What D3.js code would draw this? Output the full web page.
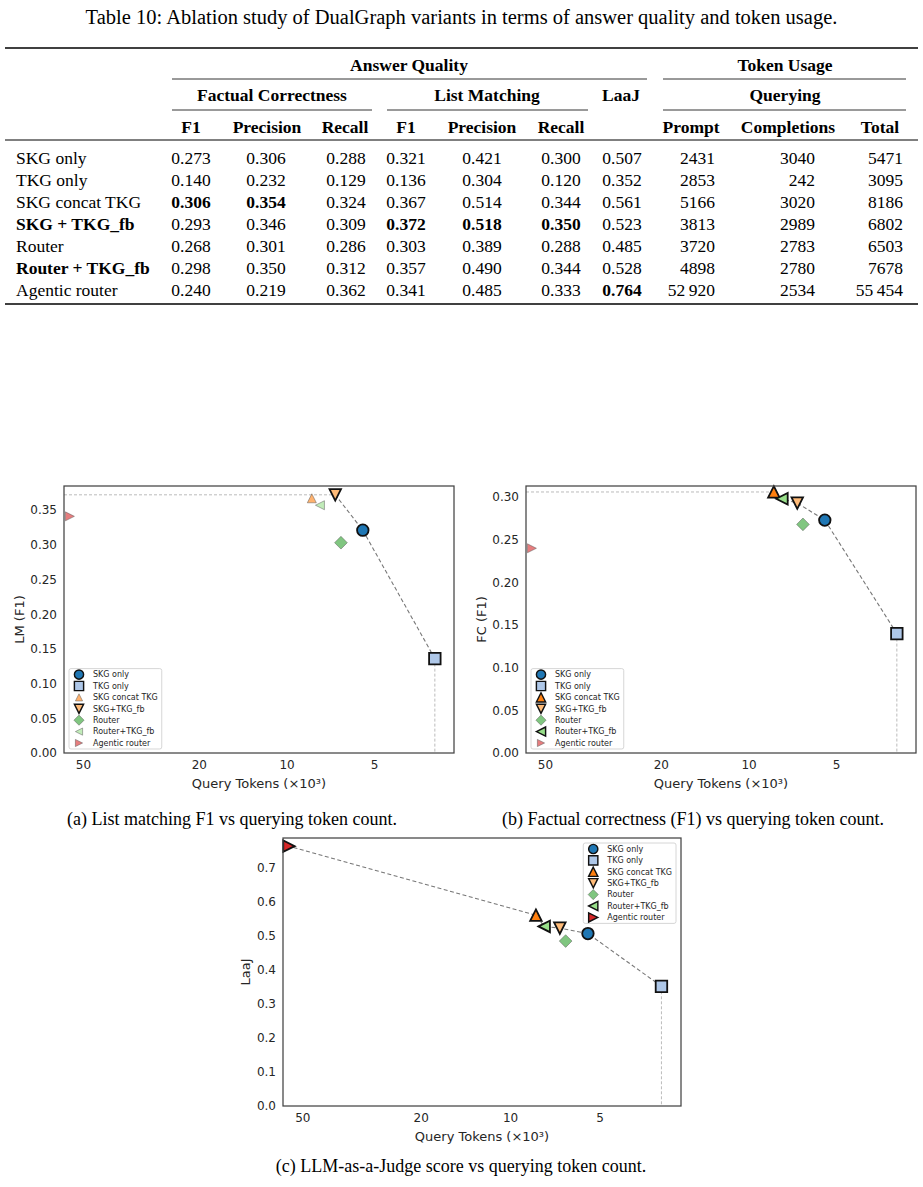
<!DOCTYPE html>
<html>
<head>
<meta charset="utf-8">
<script src="https://cdn.jsdelivr.net/npm/d3@7"></script>
<style>
  body { margin: 0; background: #fff; }
  svg { display: block; }
</style>
</head>
<body>
<div id="fig"></div>
<script>
// ---- data (Table 10) ----
const methods = ["SKG only", "TKG only", "SKG concat TKG", "SKG + TKG_fb", "Router", "Router + TKG_fb", "Agentic router"];
const legendNames = ["SKG only", "TKG only", "SKG concat TKG", "SKG+TKG_fb", "Router", "Router+TKG_fb", "Agentic router"];
const boldMethods = [3, 5];

const fcF1 = [0.273, 0.140, 0.306, 0.293, 0.268, 0.298, 0.240];
const fcPrecision = [0.306, 0.232, 0.354, 0.346, 0.301, 0.350, 0.219];
const fcRecall = [0.288, 0.129, 0.324, 0.309, 0.286, 0.312, 0.362];
const lmF1 = [0.321, 0.136, 0.367, 0.372, 0.303, 0.357, 0.341];
const lmPrecision = [0.421, 0.304, 0.514, 0.518, 0.389, 0.490, 0.485];
const lmRecall = [0.300, 0.120, 0.344, 0.350, 0.288, 0.344, 0.333];
const laaj = [0.507, 0.352, 0.561, 0.523, 0.485, 0.528, 0.764];
const promptTokens = [2431, 2853, 5166, 3813, 3720, 4898, 52920];
const completionTokens = [3040, 242, 3020, 2989, 2783, 2780, 2534];
const totalTokens = [5471, 3095, 8186, 6802, 6503, 7678, 55454];

// ---- chart ticks ----
const xTicks = [50, 20, 10, 5];
const lmTicks = [0, 0.05, 0.10, 0.15, 0.20, 0.25, 0.30, 0.35];
const fcTicks = [0, 0.05, 0.10, 0.15, 0.20, 0.25, 0.30];
const laajTicks = [0, 0.1, 0.2, 0.3, 0.4, 0.5, 0.6, 0.7];

const colors = ["#1f77b4", "#aec7e8", "#ff7f0e", "#ffbb78", "#2ca02c", "#98df8a", "#d62728"];

const serif = "'Liberation Serif', 'Times New Roman', serif";
const sans = "'DejaVu Sans', sans-serif";
const ink = "#262626";

const svg = d3.select("#fig").append("svg")
  .attr("width", 923).attr("height", 1187)
  .style("font-family", serif);

// ---------------- table ----------------
svg.append("text")
  .attr("x", 461.5).attr("y", 17).attr("dy", "0.35em")
  .attr("text-anchor", "middle")
  .style("font-size", "20.5px")
  .text("Table 10: Ablation study of DualGraph variants in terms of answer quality and token usage.");

const tfs = 17.5;
const f3 = d3.format(".3f");
const ftok = (v) => (v >= 10000 ? d3.format(",")(v).replace(/,/g, "\u2009") : String(v));

const columns = [
  { head: "F1", hx: 191, x: 191, anchor: "middle", vals: fcF1, fmt: f3, bold: [2] },
  { head: "Precision", hx: 267, x: 266, anchor: "middle", vals: fcPrecision, fmt: f3, bold: [2] },
  { head: "Recall", hx: 345, x: 346, anchor: "middle", vals: fcRecall, fmt: f3, bold: [] },
  { head: "F1", hx: 406, x: 406, anchor: "middle", vals: lmF1, fmt: f3, bold: [3] },
  { head: "Precision", hx: 482, x: 482, anchor: "middle", vals: lmPrecision, fmt: f3, bold: [3] },
  { head: "Recall", hx: 561, x: 561, anchor: "middle", vals: lmRecall, fmt: f3, bold: [3] },
  { head: "", hx: 622, x: 622, anchor: "middle", vals: laaj, fmt: f3, bold: [6] },
  { head: "Prompt", hx: 691, x: 715, anchor: "end", vals: promptTokens, fmt: ftok, bold: [] },
  { head: "Completions", hx: 788, x: 815, anchor: "end", vals: completionTokens, fmt: ftok, bold: [] },
  { head: "Total", hx: 880, x: 903, anchor: "end", vals: totalTokens, fmt: ftok, bold: [] },
];

const headRows = [
  { y: 65, items: [["Answer Quality", 409], ["Token Usage", 785]] },
  { y: 95, items: [["Factual Correctness", 272], ["List Matching", 487], ["LaaJ", 621], ["Querying", 785]] },
];

const rules = [
  { y: 48, x1: 5, x2: 918, w: 1.6 },
  { y: 79, x1: 172, x2: 647, w: 0.8 },
  { y: 79, x1: 663, x2: 906, w: 0.8 },
  { y: 110, x1: 172, x2: 372, w: 0.8 },
  { y: 110, x1: 387, x2: 588, w: 0.8 },
  { y: 110, x1: 663, x2: 906, w: 0.8 },
  { y: 140, x1: 5, x2: 918, w: 1 },
  { y: 304, x1: 5, x2: 918, w: 1.6 },
];

const table = svg.append("g").style("font-size", tfs + "px").attr("fill", "#000");

table.selectAll("line.rule").data(rules).enter().append("line")
  .attr("class", "rule")
  .attr("x1", (d) => d.x1).attr("x2", (d) => d.x2)
  .attr("y1", (d) => d.y).attr("y2", (d) => d.y)
  .attr("stroke", "#000").attr("stroke-width", (d) => d.w);

headRows.forEach((r) => {
  r.items.forEach(([t, x]) => {
    table.append("text").attr("x", x).attr("y", r.y).attr("dy", "0.33em")
      .attr("text-anchor", "middle").attr("font-weight", "bold").text(t);
  });
});

columns.forEach((c) => {
  if (c.head) {
    table.append("text").attr("x", c.hx).attr("y", 127).attr("dy", "0.33em")
      .attr("text-anchor", "middle").attr("font-weight", "bold").text(c.head);
  }
});

const rowY = (i) => 158 + i * 22.1;

methods.forEach((m, i) => {
  table.append("text").attr("x", 16).attr("y", rowY(i)).attr("dy", "0.33em")
    .attr("font-weight", boldMethods.includes(i) ? "bold" : null)
    .text(m);
  columns.forEach((c) => {
    table.append("text").attr("x", c.x).attr("y", rowY(i)).attr("dy", "0.33em")
      .attr("text-anchor", c.anchor)
      .attr("font-weight", c.bold.includes(i) ? "bold" : null)
      .text(c.fmt(c.vals[i]));
  });
});

// ---------------- scatter panels ----------------
// marker shapes, size = marker width in px
const tri = (pts) => ({
  draw(ctx, s) {
    const h = s / 2;
    ctx.moveTo(pts[0][0] * h, pts[0][1] * h);
    for (let k = 1; k < pts.length; k++) ctx.lineTo(pts[k][0] * h, pts[k][1] * h);
    ctx.closePath();
  },
});
const shapes = [
  { draw(ctx, s) { const r = s / 2; ctx.moveTo(r, 0); ctx.arc(0, 0, r, 0, 2 * Math.PI); } },
  { draw(ctx, s) { const h = s / 2; ctx.rect(-h, -h, s, s); } },
  tri([[0, -1], [1, 1], [-1, 1]]),
  tri([[0, 1], [-1, -1], [1, -1]]),
  tri([[0, -1.41], [1.41, 0], [0, 1.41], [-1.41, 0]]),
  tri([[-1, 0], [1, -1], [1, 1]]),
  tri([[1, 0], [-1, 1], [-1, -1]]),
];

function styleMarker(sel, i, front, k) {
  sel.attr("d", d3.symbol().type(shapes[i]).size((front ? 11.5 : 9) * k)())
    .attr("fill", colors[i])
    .attr("fill-opacity", front ? 1 : 0.6)
    .attr("stroke", front ? "#111" : "#555")
    .attr("stroke-opacity", front ? 1 : 0.6)
    .attr("stroke-width", front ? 1.8 * k : 0.8);
}

const tokensK = totalTokens.map((t) => t / 1000);

const panels = [
  { vals: lmF1, ticks: lmTicks, fmt: ".2f", yMax: 0.3847, label: "LM (F1)",
    box: { x: 64, y: 486, w: 390, h: 267 }, legend: "lower left",
    caption: "(a) List matching F1 vs querying token count.", capX: 232, capY: 819 },
  { vals: fcF1, ticks: fcTicks, fmt: ".2f", yMax: 0.313, label: "FC (F1)",
    box: { x: 526, y: 486, w: 390, h: 267 }, legend: "lower left",
    caption: "(b) Factual correctness (F1) vs querying token count.", capX: 693, capY: 819 },
  { vals: laaj, ticks: laajTicks, fmt: ".1f", yMax: 0.788, label: "LaaJ",
    box: { x: 283, y: 838, w: 398, h: 268 }, legend: "upper right",
    caption: "(c) LLM-as-a-Judge score vs querying token count.", capX: 461, capY: 1166 },
];

panels.forEach((p) => {
  const b = p.box;
  const g = svg.append("g").attr("transform", `translate(${b.x},${b.y})`).style("font-family", sans);

  const x = d3.scaleLog().domain([58.1, 2.66]).range([0, b.w]);
  const y = d3.scaleLinear().domain([0, p.yMax]).range([b.h, 0]);

  // pareto frontier: better score than every cheaper variant
  const order = d3.range(methods.length).sort((a, c) => tokensK[a] - tokensK[c]);
  const front = new Set();
  let best = -Infinity;
  order.forEach((i) => { if (p.vals[i] > best) { front.add(i); best = p.vals[i]; } });
  const frontPts = order.filter((i) => front.has(i));
  const top = frontPts[frontPts.length - 1];
  const cheapest = frontPts[0];

  // axes (no tick marks, seaborn-white look)
  const xAxis = g.append("g").attr("transform", `translate(0,${b.h})`)
    .call(d3.axisBottom(x).tickValues(xTicks).tickFormat(d3.format("d")).tickSize(0).tickPadding(7));
  const yAxis = g.append("g")
    .call(d3.axisLeft(y).tickValues(p.ticks).tickFormat(d3.format(p.fmt)).tickSize(0).tickPadding(7));
  [xAxis, yAxis].forEach((a) => {
    a.select(".domain").remove();
    a.selectAll("text").style("font-size", "12px").style("font-family", sans).attr("fill", ink);
  });

  // guide lines
  g.append("line")
    .attr("x1", 0).attr("x2", x(tokensK[top]))
    .attr("y1", y(p.vals[top])).attr("y2", y(p.vals[top]))
    .attr("stroke", "#bbb").attr("stroke-width", 1).attr("stroke-dasharray", "3,2");
  g.append("line")
    .attr("x1", x(tokensK[cheapest])).attr("x2", x(tokensK[cheapest]))
    .attr("y1", y(p.vals[cheapest])).attr("y2", b.h)
    .attr("stroke", "#bbb").attr("stroke-width", 1).attr("stroke-dasharray", "3,2");
  g.append("path")
    .datum(frontPts)
    .attr("d", d3.line().x((i) => x(tokensK[i])).y((i) => y(p.vals[i])))
    .attr("fill", "none").attr("stroke", "#777").attr("stroke-width", 1.1)
    .attr("stroke-dasharray", "4,2.5");

  // markers
  methods.forEach((m, i) => {
    g.append("path")
      .attr("transform", `translate(${x(tokensK[i])},${y(p.vals[i])})`)
      .call(styleMarker, i, front.has(i), 1);
  });

  // frame
  g.append("rect").attr("width", b.w).attr("height", b.h)
    .attr("fill", "none").attr("stroke", "#444").attr("stroke-width", 1.25);

  // axis labels
  g.append("text")
    .attr("x", b.w / 2).attr("y", b.h + 30).attr("dy", "0.35em")
    .attr("text-anchor", "middle").style("font-size", "13px").attr("fill", ink)
    .text("Query Tokens (×10³)");
  let minX = 0;
  yAxis.selectAll("text").each(function () { minX = Math.min(minX, this.getBBox().x); });
  g.append("text")
    .attr("transform", `translate(${minX - 11},${b.h / 2}) rotate(-90)`)
    .attr("dy", "0.35em").attr("text-anchor", "middle")
    .style("font-size", "13px").attr("fill", ink)
    .text(p.label);

  // legend
  const rowH = 11.4;
  const lg = g.append("g");
  const frame = lg.append("rect");
  let maxW = 0;
  legendNames.forEach((n, i) => {
    const cy = 6 + i * rowH;
    lg.append("path").attr("transform", `translate(10,${cy})`).call(styleMarker, i, front.has(i), 0.8);
    const t = lg.append("text").attr("x", 24).attr("y", cy).attr("dy", "0.35em")
      .style("font-size", "8px").attr("fill", ink).text(n);
    maxW = Math.max(maxW, t.node().getComputedTextLength());
  });
  const lw = 24 + maxW + 4;
  const lh = 6 + 6 * rowH + 6;
  frame.attr("width", lw).attr("height", lh).attr("rx", 2)
    .attr("fill", "#fff").attr("fill-opacity", 0.8)
    .attr("stroke", "#ccc").attr("stroke-width", 0.8);
  if (p.legend === "lower left") {
    lg.attr("transform", `translate(5,${b.h - 4 - lh})`);
  } else {
    lg.attr("transform", `translate(${b.w - 5 - lw},5)`);
  }

  // sub-caption
  svg.append("text")
    .attr("x", p.capX).attr("y", p.capY).attr("dy", "0.33em")
    .attr("text-anchor", "middle").style("font-size", "18px")
    .text(p.caption);
});
</script>
</body>
</html>
